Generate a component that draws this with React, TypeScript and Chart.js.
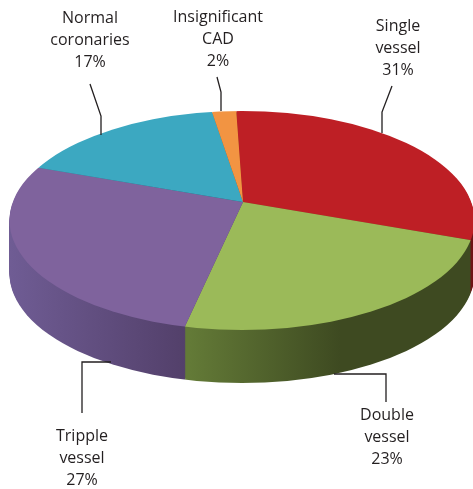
import React, { useEffect, useRef } from 'react';
import { Chart, ArcElement, registerables } from 'chart.js';

Chart.register(...registerables);

// ---- data ----
const categories = ['Single vessel', 'Double vessel', 'Tripple vessel', 'Normal coronaries', 'Insignificant CAD'];
const labelLines = [['Single', 'vessel'], ['Double', 'vessel'], ['Tripple', 'vessel'], ['Normal', 'coronaries'], ['Insignificant', 'CAD']];
const values = [31, 23, 27, 17, 2];

// ---- styles ----
const topColors = ['#be1f25', '#9bba59', '#7f639d', '#3ca8c1', '#f29442'];
const sideLight = ['#8a171b', '#637a37', '#6f5c94', '#2d7f93', '#b86f30'];
const sideDark = ['#6e1215', '#3e4a21', '#523f69', '#1f5b69', '#8a5224'];

// ---- layout (screen positions) ----
const ELLIPSE = { cx: 242, cy: 220.5, rx: 232.5, ry: 109.5, depth: 53 };
const APEX = { x: 243, y: 202 };
const SIDE_GRAD_X = [
  [380, 475],
  [190, 340],
  [10, 190],
  [10, 240],
  [200, 240],
];
const LABEL_POS = [
  { x: 398, y: 26 },
  { x: 387, y: 415 },
  { x: 82, y: 436 },
  { x: 90, y: 18 },
  { x: 218, y: 17 },
];
const LEADERS = [
  [[392, 86], [382, 112], [382, 133]],
  [[386, 402], [386, 374], [334, 374]],
  [[82, 413], [82, 362], [111, 362]],
  [[90, 84], [101, 116], [101, 135]],
  [[217, 77], [221, 92], [221, 111]],
];
const LINE_H = 22;

function ellipseClip(ctx: CanvasRenderingContext2D, dy: number) {
  ctx.beginPath();
  ctx.ellipse(ELLIPSE.cx, ELLIPSE.cy + dy, ELLIPSE.rx, ELLIPSE.ry, 0, 0, Math.PI * 2);
  ctx.clip();
}

const pie3d = {
  id: 'pie3d',
  beforeDatasetsDraw(chart: any) {
    const ctx: CanvasRenderingContext2D = chart.ctx;
    const meta = chart.getDatasetMeta(0);
    const arcs = meta.data;
    if (!arcs.length) return;
    const a0 = arcs[0];
    const cx = a0.x, cy = a0.y, r = a0.outerRadius;
    const sx = ELLIPSE.rx / r, sy = ELLIPSE.ry / r;
    const toCircleX = (X: number) => cx + (X - APEX.x) / sx;

    const makeWedge = (arc: any, fill: any) => {
      const el: any = new (ArcElement as any)({});
      Object.assign(el, {
        x: arc.x,
        y: arc.y,
        startAngle: arc.startAngle,
        endAngle: arc.endAngle,
        innerRadius: 0,
        outerRadius: arc.outerRadius * 1.5,
        circumference: arc.circumference,
        options: { ...arc.options, backgroundColor: fill, borderWidth: 0 },
      });
      return el;
    };

    const sides = arcs.map((arc: any, i: number) => {
      const g = ctx.createLinearGradient(toCircleX(SIDE_GRAD_X[i][0]), 0, toCircleX(SIDE_GRAD_X[i][1]), 0);
      g.addColorStop(0, sideLight[i]);
      g.addColorStop(1, sideDark[i]);
      return makeWedge(arc, g);
    });
    const tops = arcs.map((arc: any) => makeWedge(arc, arc.options.backgroundColor));

    const drawLayer = (list: any[], d: number) => {
      ctx.save();
      ellipseClip(ctx, d);
      ctx.translate(APEX.x, APEX.y + d);
      ctx.scale(sx, sy);
      ctx.translate(-cx, -cy);
      list.forEach((s: any) => s.draw(ctx));
      ctx.restore();
    };

    for (let d = ELLIPSE.depth; d >= 1; d--) drawLayer(sides, d);
    drawLayer(tops, 0);
    return false;
  },
  afterDraw(chart: any) {
    const ctx: CanvasRenderingContext2D = chart.ctx;
    ctx.save();
    ctx.strokeStyle = '#231f20';
    ctx.lineWidth = 1.3;
    LEADERS.forEach((pts) => {
      ctx.beginPath();
      pts.forEach((p, j) => (j ? ctx.lineTo(p[0], p[1]) : ctx.moveTo(p[0], p[1])));
      ctx.stroke();
    });
    ctx.fillStyle = '#231f20';
    ctx.font = '16px "Open Sans"';
    ctx.textAlign = 'center';
    ctx.textBaseline = 'middle';
    categories.forEach((_, i) => {
      const lines = [...labelLines[i], `${values[i]}%`];
      lines.forEach((t, j) => ctx.fillText(t, LABEL_POS[i].x, LABEL_POS[i].y + j * LINE_H));
    });
    ctx.restore();
  },
};

export default function App() {
  const ref = useRef<HTMLCanvasElement>(null);
  useEffect(() => {
    if (!ref.current) return;
    const chart = new Chart(ref.current, {
      type: 'pie',
      data: {
        labels: categories,
        datasets: [
          {
            data: values,
            backgroundColor: topColors,
            borderWidth: 0,
            clip: false as any,
          },
        ],
      },
      options: {
        responsive: false,
        animation: false,
        rotation: -2,
        layout: { padding: 20 },
        plugins: { legend: { display: false }, tooltip: { enabled: false } },
      },
      plugins: [pie3d as any],
    });
    return () => chart.destroy();
  }, []);
  return (
    <div style={{ position: 'absolute', left: 0, top: 0, width: 473, height: 489, background: '#fff' }}>
      <canvas ref={ref} width={473} height={489} style={{ display: 'block' }} />
    </div>
  );
}
